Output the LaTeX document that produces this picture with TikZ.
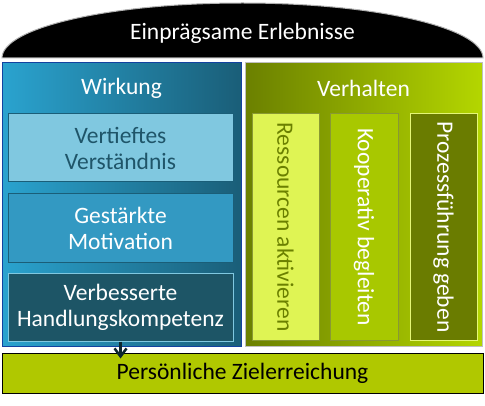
\documentclass[tikz,border=0pt]{standalone}
\usepackage{fontspec}
\setmainfont{Carlito}
\usetikzlibrary{arrows.meta}
\definecolor{blauhell}{HTML}{2AA3CF}
\definecolor{blaudunkel}{HTML}{1A5E78}
\definecolor{gruendunkel}{HTML}{6B8000}
\definecolor{gruenhell}{HTML}{B4D600}
\definecolor{tuerkis}{HTML}{80C8E0}
\definecolor{tuerkistext}{HTML}{1F5569}
\definecolor{mittelblau}{HTML}{3399C2}
\definecolor{nachtblau}{HTML}{1D5566}
\definecolor{zitrone}{HTML}{DFF454}
\definecolor{oliv}{HTML}{6A7C00}
\definecolor{limette}{HTML}{A8C800}
\definecolor{zielgruen}{HTML}{B0C800}

\begin{document}
\begin{tikzpicture}[x=1pt,y=1pt,
	txt/.style={font=\fontsize{23.5}{26}\selectfont,align=center},
	panel/.style={minimum height=283pt,inner sep=0pt,draw=gray!50,line width=1pt},
	feld/.style={txt,minimum width=225pt,minimum height=68pt,inner sep=0pt,line width=1pt},
	saeule/.style={txt,rotate=-90,minimum width=226pt,minimum height=67pt,inner sep=0pt,line width=1pt}]
	\useasboundingbox (0,0) rectangle (485,405);
	\filldraw[fill=black,draw=gray!60,line width=1pt] (2,347) arc[start angle=180,end angle=0,x radius=240.5,y radius=55] -- cycle;
	\node[txt,text=white] (erleb) at (242.5,372) {Einprägsame Erlebnisse};
	\node[panel,left color=blauhell,right color=blaudunkel,draw=blaudunkel!70!blue,minimum width=239pt] (wirk) at (121.5,200.5) {};
	\node[txt,text=white] (wirktitel) at (121.5,317) {Wirkung};
	\node[feld,fill=tuerkis,draw=blaudunkel,text=tuerkistext] (vert) at (120.5,257) {Vertieftes\\Verständnis};
	\node[feld,fill=mittelblau,draw=blaudunkel,text=white] (gest) at (120.5,177) {Gestärkte\\Motivation};
	\node[feld,fill=nachtblau,draw=tuerkis,text=white] (hand) at (120.5,98) {Verbesserte\\Handlungskompetenz};
	\node[panel,left color=gruendunkel,right color=gruenhell,minimum width=237pt] (verh) at (363.5,200.5) {};
	\node[txt,text=white] (verhtitel) at (363.5,317) {Verhalten};
	\node[saeule,fill=zitrone,draw=gruendunkel!80,text=gruendunkel] (ress) at (285.5,178) {Ressourcen aktivieren};
	\node[saeule,fill=limette,draw=gruendunkel!80,text=white,minimum height=68pt] (koop) at (364,178) {Kooperativ begleiten};
	\node[saeule,fill=oliv,draw=zitrone!80,text=white] (proz) at (443.5,178) {Prozessführung geben};
	\node[txt,fill=zielgruen,draw=black,line width=1pt,minimum width=481pt,minimum height=40pt,inner sep=0pt] (ziel) at (242.5,32) {Persönliche Zielerreichung};
	\draw[-{Straight Barb[length=8pt,width=12pt,line width=2.5pt]},line width=2.5pt,draw=nachtblau!45!black] (hand.south) -- ([yshift=-6pt]ziel.north-|hand.south);
\end{tikzpicture}
\end{document}
